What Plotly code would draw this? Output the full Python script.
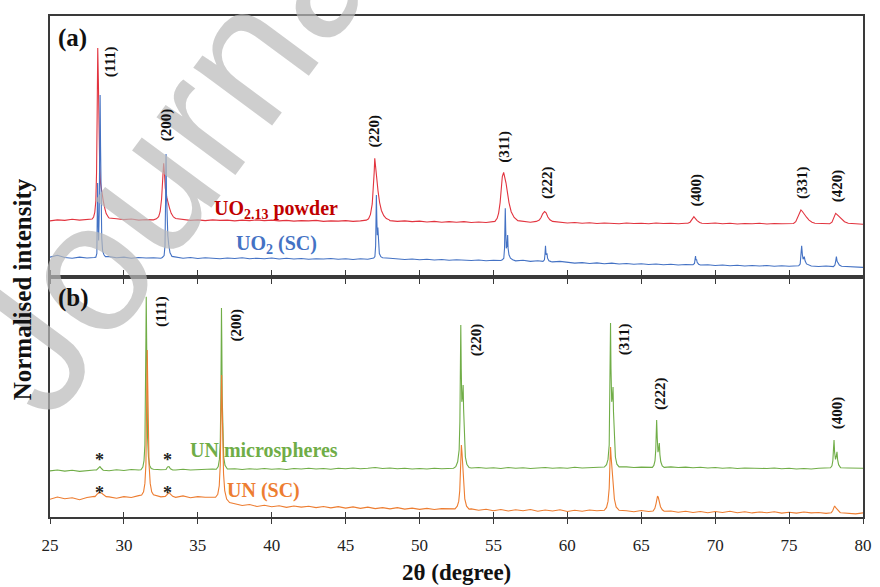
import numpy as np
import plotly.graph_objects as go

# ---------------- data ----------------
# 2theta sampling grid of the baseline readings (0.5 deg steps, 25..80)
grid_2theta = np.arange(25.0, 80.25, 0.5)

# Panel (a): normalised intensity (0..100 of panel height)
uo213_base = [21.5, 21.9, 21.7, 22.1, 21.8, 22.0, 22.4, 22.8, 22.6, 22.3,
              22.0, 22.2, 21.8, 22.0, 21.9, 22.3, 22.4, 22.2, 22.0, 21.7,
              21.9, 21.6, 21.9, 21.7, 21.8, 21.5, 21.8, 21.6, 21.9, 21.6,
              21.8, 21.5, 21.7, 21.4, 21.6, 21.5, 21.7, 21.3, 21.5, 21.4,
              21.6, 21.3, 21.5, 21.8, 22.0, 22.0, 21.6, 21.3, 21.5, 21.2,
              21.4, 21.1, 21.3, 21.0, 21.2, 21.0, 21.2, 20.9, 21.1, 20.9,
              21.1, 21.5, 21.8, 21.6, 21.3, 21.0, 21.2, 21.2, 21.2, 20.9,
              20.7, 20.9, 20.6, 20.8, 20.5, 20.7, 20.6, 20.4, 20.7, 20.5,
              20.6, 20.4, 20.7, 20.5, 20.6, 20.4, 20.6, 20.8, 20.8, 20.5,
              20.7, 20.4, 20.6, 20.3, 20.5, 20.4, 20.6, 20.3, 20.5, 20.4,
              20.6, 20.5, 20.8, 20.7, 20.5, 20.3, 20.8, 20.6, 20.5, 20.4,
              20.2]
uo213_peaks = [
    [(27.85, 22.2), (27.95, 23.0), (28.03, 24.8), (28.1, 29), (28.15, 40), (28.19, 62), (28.23, 87.7),
     (28.27, 76), (28.31, 56), (28.36, 43), (28.42, 36), (28.5, 32), (28.6, 29.3), (28.7, 26.5),
     (28.8, 24.3), (28.95, 22.9)],
    [(32.2, 22.3), (32.35, 23.1), (32.45, 25), (32.55, 30), (32.63, 38), (32.69, 43.6), (32.74, 40),
     (32.8, 34), (32.9, 30.5), (32.97, 29.3), (33.08, 26.5), (33.2, 24.4), (33.35, 23), (33.5, 22.4)],
    [(46.4, 21.8), (46.55, 22.3), (46.68, 24), (46.8, 28), (46.88, 34), (46.93, 40), (46.97, 45.5),
     (47.02, 42), (47.1, 36.5), (47.19, 33), (47.3, 28.5), (47.42, 25.5), (47.58, 23.5), (47.75, 22.4),
     (47.95, 21.9)],
    [(55.1, 21.3), (55.25, 22.5), (55.35, 24.5), (55.45, 28.5), (55.53, 34), (55.6, 38.5), (55.69, 40.1),
     (55.77, 38.5), (55.85, 36), (55.93, 33), (56.05, 28.5), (56.2, 25), (56.4, 22.8), (56.65, 21.6)],
    [(57.9, 21.3), (58.1, 21.8), (58.22, 22.8), (58.33, 24.2), (58.46, 25.1), (58.56, 24.6), (58.68, 23.0),
     (58.82, 21.9), (59.0, 21.3)],
    [(68.15, 20.6), (68.3, 21.0), (68.42, 22.0), (68.5, 22.8), (68.56, 23.1), (68.65, 22.5), (68.78, 21.6),
     (68.95, 20.9), (69.1, 20.6)],
    [(75.3, 20.5), (75.45, 21.2), (75.57, 22.8), (75.68, 24.8), (75.8, 25.7), (75.9, 25.1), (76.02, 24.0),
     (76.18, 22.9), (76.35, 21.8), (76.55, 21.0), (76.75, 20.6)],
    [(77.75, 20.4), (77.9, 21.0), (78.02, 22.5), (78.1, 23.8), (78.15, 24.4), (78.25, 23.9), (78.38, 23.1),
     (78.53, 22.3), (78.75, 21.2), (79.0, 20.6)],
]

uo2_base = [7.6, 8.3, 7.5, 7.2, 7.6, 7.3, 7.5, 7.6, 7.8, 7.4,
            7.6, 7.2, 7.5, 7.3, 7.4, 7.2, 7.5, 7.6, 7.2, 7.5,
            7.1, 7.4, 7.2, 7.0, 7.3, 7.1, 7.4, 7.0, 7.2, 7.0,
            7.3, 6.9, 7.2, 6.9, 7.1, 6.8, 7.0, 6.9, 7.1, 6.8,
            7.0, 6.7, 7.0, 6.8, 7.0, 7.0, 7.2, 6.9, 6.7, 6.9,
            6.6, 6.8, 6.5, 6.7, 6.4, 6.6, 6.5, 6.3, 6.5, 6.2,
            6.4, 6.3, 6.3, 6.2, 6.4, 6.0, 6.2, 6.0, 5.8, 6.0,
            5.6, 5.3, 5.5, 5.2, 5.4, 5.1, 5.3, 5.0, 5.2, 4.9,
            5.1, 4.8, 5.0, 4.7, 4.9, 4.6, 4.8, 4.7, 4.6, 4.7,
            4.4, 4.6, 4.3, 4.5, 4.2, 4.4, 4.2, 4.4, 4.1, 4.3,
            4.1, 4.3, 4.2, 4.2, 4.0, 4.2, 4.1, 4.0, 4.0, 3.8,
            3.7]
uo2_peaks = [
    [(28.1, 7.6), (28.17, 9), (28.2, 20), (28.22, 36), (28.25, 22), (28.29, 14), (28.33, 25), (28.36, 50),
     (28.39, 69.7), (28.42, 50), (28.45, 26), (28.5, 15), (28.56, 10), (28.65, 8.5), (28.75, 7.8)],
    [(32.6, 7.5), (32.72, 8.2), (32.78, 12), (32.82, 30), (32.85, 47.1), (32.88, 32), (32.92, 20),
     (32.97, 16), (33.03, 12.5), (33.12, 9.3), (33.25, 7.9)],
    [(46.9, 7.3), (46.98, 7.8), (47.03, 12), (47.06, 25), (47.08, 31.4), (47.11, 22), (47.14, 16),
     (47.18, 19), (47.22, 12), (47.28, 9), (47.38, 7.8), (47.5, 7.4)],
    [(55.6, 6.6), (55.7, 7.2), (55.75, 11), (55.78, 20), (55.8, 26.3), (55.83, 18), (55.87, 11),
     (55.92, 12), (55.96, 16.1), (55.99, 11), (56.05, 8.5), (56.15, 7.2), (56.3, 6.6)],
    [(58.35, 6.0), (58.45, 6.6), (58.49, 9), (58.52, 12), (58.56, 8.5), (58.62, 9.1), (58.66, 7.2),
     (58.75, 6.2), (58.9, 5.9)],
    [(68.5, 4.7), (68.6, 5.2), (68.64, 6.8), (68.67, 8.0), (68.7, 6.5), (68.74, 6.8), (68.78, 5.6),
     (68.88, 4.9), (69.0, 4.6)],
    [(75.65, 4.3), (75.75, 5.0), (75.8, 8.0), (75.85, 12.0), (75.9, 8.5), (75.95, 6.8), (76.03, 7.8),
     (76.08, 6.2), (76.18, 5.0), (76.35, 4.4)],
    [(78.0, 4.0), (78.1, 4.6), (78.16, 6.3), (78.2, 7.8), (78.25, 6.0), (78.32, 5.5), (78.4, 4.6),
     (78.55, 4.1)],
]

# Panel (b)
unm_base = [19.2, 19.6, 19.1, 19.5, 19.0, 19.4, 19.6, 19.7, 19.3, 19.7,
            19.4, 19.8, 19.6, 19.9, 19.9, 19.7, 19.8, 19.6, 19.9, 19.6,
            19.8, 19.9, 20.0, 20.0, 20.0, 20.1, 19.8, 20.1, 19.9, 20.2,
            19.9, 20.1, 19.8, 20.2, 20.0, 20.3, 20.0, 20.2, 19.9, 20.3,
            20.1, 20.4, 20.1, 20.3, 20.6, 20.2, 20.4, 20.1, 20.3, 20.0,
            20.2, 20.0, 20.3, 20.1, 20.4, 20.4, 20.4, 20.4, 20.6, 20.3,
            20.5, 20.2, 20.6, 20.3, 20.5, 20.2, 20.4, 20.6, 20.3, 20.5,
            20.3, 20.7, 20.4, 20.6, 20.8, 20.8, 20.8, 20.8, 20.9, 20.6,
            20.8, 20.7, 20.7, 20.7, 20.9, 20.6, 20.8, 20.5, 20.7, 20.4,
            20.6, 20.3, 20.5, 20.2, 20.4, 20.3, 20.5, 20.2, 20.4, 20.1,
            20.3, 20.0, 20.2, 20.0, 20.3, 20.5, 20.5, 20.5, 20.4, 20.2,
            20.3]
unm_peaks = [
    [(28.15, 19.6), (28.3, 20.6), (28.38, 21.0), (28.48, 20.2), (28.6, 19.5)],
    [(31.15, 19.7), (31.28, 20.8), (31.36, 23.5), (31.42, 30), (31.46, 45), (31.49, 75), (31.51, 91.8),
     (31.53, 80), (31.56, 50), (31.6, 33), (31.66, 25), (31.74, 21.5), (31.85, 20.2)],
    [(32.85, 19.8), (32.95, 20.8), (33.05, 21.0), (33.15, 20.1), (33.3, 19.6)],
    [(36.25, 19.9), (36.38, 21), (36.46, 24), (36.52, 32), (36.56, 50), (36.58, 72), (36.6, 87.1),
     (36.62, 75), (36.65, 50), (36.69, 32), (36.75, 25), (36.84, 21.5), (36.95, 20.2)],
    [(52.3, 20.3), (52.45, 21), (52.58, 23), (52.68, 28), (52.73, 40), (52.76, 60), (52.79, 80),
     (52.82, 62), (52.86, 48), (52.91, 50), (52.95, 55), (52.98, 45), (53.03, 32), (53.1, 25),
     (53.2, 22), (53.35, 20.6)],
    [(62.5, 20.8), (62.65, 21.8), (62.75, 24), (62.83, 30), (62.87, 45), (62.9, 65), (62.92, 80.8),
     (62.95, 62), (63.0, 48), (63.05, 50), (63.09, 54.2), (63.12, 44), (63.17, 32), (63.25, 25),
     (63.35, 22), (63.5, 20.9)],
    [(65.75, 20.7), (65.85, 21.5), (65.93, 23.5), (65.98, 28), (66.01, 34), (66.04, 40.4), (66.08, 33),
     (66.13, 27), (66.18, 28.5), (66.22, 30.8), (66.26, 26), (66.32, 23), (66.42, 21.3), (66.55, 20.7)],
    [(77.8, 20.5), (77.9, 21.3), (77.96, 23.5), (78.0, 28), (78.04, 32.1), (78.08, 27), (78.14, 24),
     (78.2, 25.5), (78.24, 27.2), (78.28, 24), (78.35, 21.8), (78.48, 20.6)],
]

unsc_base = [7.4, 8.3, 7.6, 8.0, 7.2, 8.1, 8.6, 8.8, 8.4, 7.8,
             8.5, 8.1, 8.9, 9.2, 9.0, 8.4, 9.0, 8.2, 8.8, 8.0,
             8.5, 8.2, 8.0, 7.0, 6.0, 5.6, 4.8, 5.2, 4.4, 4.9,
             4.3, 4.7, 4.0, 4.6, 4.1, 4.5, 3.9, 4.4, 3.8, 4.3,
             3.7, 4.2, 3.6, 4.1, 3.5, 3.9, 3.4, 3.9, 3.3, 3.7,
             3.2, 3.6, 3.1, 3.5, 3.3, 3.4, 3.4, 3.4, 2.8, 3.2,
             2.6, 3.1, 2.5, 3.0, 2.6, 3.1, 2.4, 2.9, 2.5, 3.0,
             2.3, 2.8, 2.4, 2.9, 2.6, 2.8, 2.8, 2.8, 2.6, 2.2,
             2.7, 2.3, 2.4, 2.4, 2.5, 2.0, 2.4, 1.9, 2.3, 1.8,
             2.3, 1.9, 2.4, 1.8, 2.2, 1.7, 2.1, 1.8, 2.2, 1.6,
             2.0, 1.6, 2.1, 1.7, 1.9, 1.5, 1.8, 1.8, 1.6, 1.3,
             1.7]
unsc_peaks = [
    [(28.05, 8.5), (28.2, 9.6), (28.35, 10.3), (28.5, 9.9), (28.65, 9.0), (28.8, 8.5)],
    [(31.2, 9.2), (31.33, 10.5), (31.42, 14), (31.49, 22), (31.53, 38), (31.56, 58), (31.58, 69.6),
     (31.61, 56), (31.65, 36), (31.7, 22), (31.78, 14), (31.88, 10.5), (32.0, 9.3)],
    [(32.8, 8.6), (32.95, 9.8), (33.05, 10.2), (33.15, 9.5), (33.3, 8.6)],
    [(36.2, 8.2), (36.35, 9.5), (36.45, 13), (36.52, 22), (36.56, 38), (36.59, 52), (36.61, 59.2),
     (36.64, 48), (36.68, 30), (36.74, 18), (36.82, 11), (36.95, 7.5), (37.15, 6.0)],
    [(52.4, 3.4), (52.55, 4.5), (52.65, 6.5), (52.72, 11), (52.77, 20), (52.8, 27), (52.83, 30),
     (52.87, 27), (52.92, 21), (52.98, 13), (53.06, 7.5), (53.18, 4.5), (53.35, 3.3)],
    [(62.5, 2.8), (62.65, 4.0), (62.75, 6.5), (62.83, 12), (62.88, 22), (62.92, 29.2), (62.96, 25),
     (63.0, 21), (63.04, 19), (63.1, 13), (63.18, 7.5), (63.3, 4.2), (63.45, 3.0)],
    [(65.8, 2.5), (65.92, 3.6), (66.0, 5.6), (66.06, 8.0), (66.1, 8.75), (66.15, 8.2), (66.22, 6.5),
     (66.3, 4.3), (66.42, 3.0), (66.55, 2.4)],
    [(77.85, 1.8), (77.95, 2.6), (78.03, 3.9), (78.08, 4.6), (78.14, 4.0), (78.2, 3.6), (78.3, 2.6),
     (78.45, 1.9)],
]

# Miller-index labels and their anchor positions
labels_a = ["(111)", "(200)", "(220)", "(311)", "(222)", "(400)", "(331)", "(420)"]
labels_a_x = [29.15, 32.86, 46.97, 55.78, 58.66, 68.76, 75.9, 78.28]
labels_a_y = [82.4, 58.2, 56.0, 49.9, 36.2, 33.5, 36.2, 35.0]
labels_b = ["(111)", "(200)", "(220)", "(311)", "(222)", "(400)"]
labels_b_x = [32.53, 37.55, 53.83, 63.92, 66.27, 78.26]
labels_b_y = [85.5, 80.0, 73.75, 74.2, 51.25, 43.3]
star_x = [28.35, 32.98]

x_ticks = [25, 30, 35, 40, 45, 50, 55, 60, 65, 70, 75, 80]


def build(base, peaks):
    pts = []
    for x, y in zip(grid_2theta, base):
        if any(p[0][0] <= x <= p[-1][0] for p in peaks):
            continue
        pts.append((float(x), y))
    for p in peaks:
        pts.extend(p)
    pts.sort()
    return [a for a, _ in pts], [b for _, b in pts]


assert len(uo213_base) == len(grid_2theta) == len(uo2_base) == len(unm_base) == len(unsc_base)

RED, RED_T = "#e2343f", "#c00000"
BLUE = "#4472c4"
GREEN = "#70ad47"
ORANGE = "#ed7d31"
SERIF = "Liberation Serif, Times New Roman, serif"
AXC = "#3a3a3a"

fig = go.Figure()
for base, peaks, col, xa, ya in [
    (uo213_base, uo213_peaks, RED, "x", "y"),
    (uo2_base, uo2_peaks, BLUE, "x", "y"),
    (unm_base, unm_peaks, GREEN, "x2", "y2"),
    (unsc_base, unsc_peaks, ORANGE, "x2", "y2"),
]:
    xs, ys = build(base, peaks)
    fig.add_trace(go.Scatter(x=xs, y=ys, mode="lines", line=dict(color=col, width=1.1),
                             xaxis=xa, yaxis=ya, showlegend=False, hoverinfo="skip"))

split = 240 / 501
common_x = dict(range=[25, 80], tickmode="array", tickvals=x_ticks, showgrid=False, zeroline=False,
                showline=True, linecolor=AXC, linewidth=1.5, tickcolor=AXC, tickwidth=1.3, ticklen=5)
common_y = dict(range=[0, 100], showgrid=False, zeroline=False, showline=True, linecolor=AXC,
                linewidth=1.5, mirror=True, ticks="", showticklabels=False)

fig.update_layout(
    width=880, height=587,
    margin=dict(l=50, r=8, t=16, b=70),
    paper_bgcolor="white", plot_bgcolor="white",
    xaxis=dict(**common_x, anchor="y", domain=[0, 1], ticks="outside", mirror=True, showticklabels=False),
    yaxis=dict(**common_y, anchor="x", domain=[split, 1]),
    xaxis2=dict(**common_x, anchor="y2", domain=[0, 1], ticks="outside", mirror="ticks",
                showticklabels=True, ticklabelstandoff=7,
                tickfont=dict(family=SERIF, size=17, color="#222")),
    xaxis3=dict(range=[25, 80], tickmode="array", tickvals=x_ticks, overlaying="x2", anchor="y2",
                ticks="inside", ticklen=5, tickcolor=AXC, tickwidth=1.3, showline=False,
                showgrid=False, zeroline=False, showticklabels=False),
    yaxis2=dict(**common_y, anchor="x2", domain=[0, split]),
)
# invisible trace to activate xaxis3
fig.add_trace(go.Scatter(x=[25, 80], y=[None, None], xaxis="x3", yaxis="y2", mode="lines",
                         showlegend=False, hoverinfo="skip"))


def px(xp):
    return (xp - 50) / 822


def py(yp):
    return (517 - yp) / 501


C = dict(xanchor="center", yanchor="middle", showarrow=False)
ann = []
# watermark of the source page
ann.append(dict(text="Journal", xref="paper", yref="paper", x=px(181), y=py(143), textangle=-53.5,
                font=dict(family="Liberation Sans, Arial", size=185, color="rgba(185,185,185,0.7)"), **C))
for t, x, y in zip(labels_a, labels_a_x, labels_a_y):
    ann.append(dict(text=f"<b>{t}</b>", x=x, y=y, xref="x", yref="y", textangle=-90,
                    font=dict(family=SERIF, size=15, color="#111"), **C))
for t, x, y in zip(labels_b, labels_b_x, labels_b_y):
    ann.append(dict(text=f"<b>{t}</b>", x=x, y=y, xref="x2", yref="y2", textangle=-90,
                    font=dict(family=SERIF, size=15, color="#111"), **C))
for sx in star_x:
    for sy in (23.6, 9.8):
        ann.append(dict(text="<b>*</b>", x=sx, y=sy, xref="x2", yref="y2",
                        font=dict(family=SERIF, size=18, color="#222"), **C))
ann += [
    dict(text="<b>UO<sub>2.13</sub> powder</b>", x=40.27, y=26.0, xref="x", yref="y",
         font=dict(family=SERIF, size=20, color=RED_T), **C),
    dict(text="<b>UO<sub>2</sub> (SC)</b>", x=40.3, y=12.3, xref="x", yref="y",
         font=dict(family=SERIF, size=20, color=BLUE), **C),
    dict(text="<b>UN microspheres</b>", x=39.5, y=27.9, xref="x2", yref="y2",
         font=dict(family=SERIF, size=20, color=GREEN), **C),
    dict(text="<b>UN (SC)</b>", x=39.46, y=11.25, xref="x2", yref="y2",
         font=dict(family=SERIF, size=20, color=ORANGE), **C),
    dict(text="<b>(a)</b>", x=px(73), y=py(38), xref="paper", yref="paper",
         font=dict(family=SERIF, size=25, color="#111"), **C),
    dict(text="<b>(b)</b>", x=px(74), y=py(298), xref="paper", yref="paper",
         font=dict(family=SERIF, size=25, color="#111"), **C),
    dict(text="<b>Normalised intensity</b>", x=px(22), y=py(289), xref="paper", yref="paper",
         textangle=-90, font=dict(family=SERIF, size=25, color="#111"), **C),
    dict(text="<b>2θ (degree)</b>", x=px(461), y=py(572), xref="paper", yref="paper",
         font=dict(family=SERIF, size=23, color="#111"), **C),
]
fig.update_layout(annotations=ann)

fig.write_html("out.html")
